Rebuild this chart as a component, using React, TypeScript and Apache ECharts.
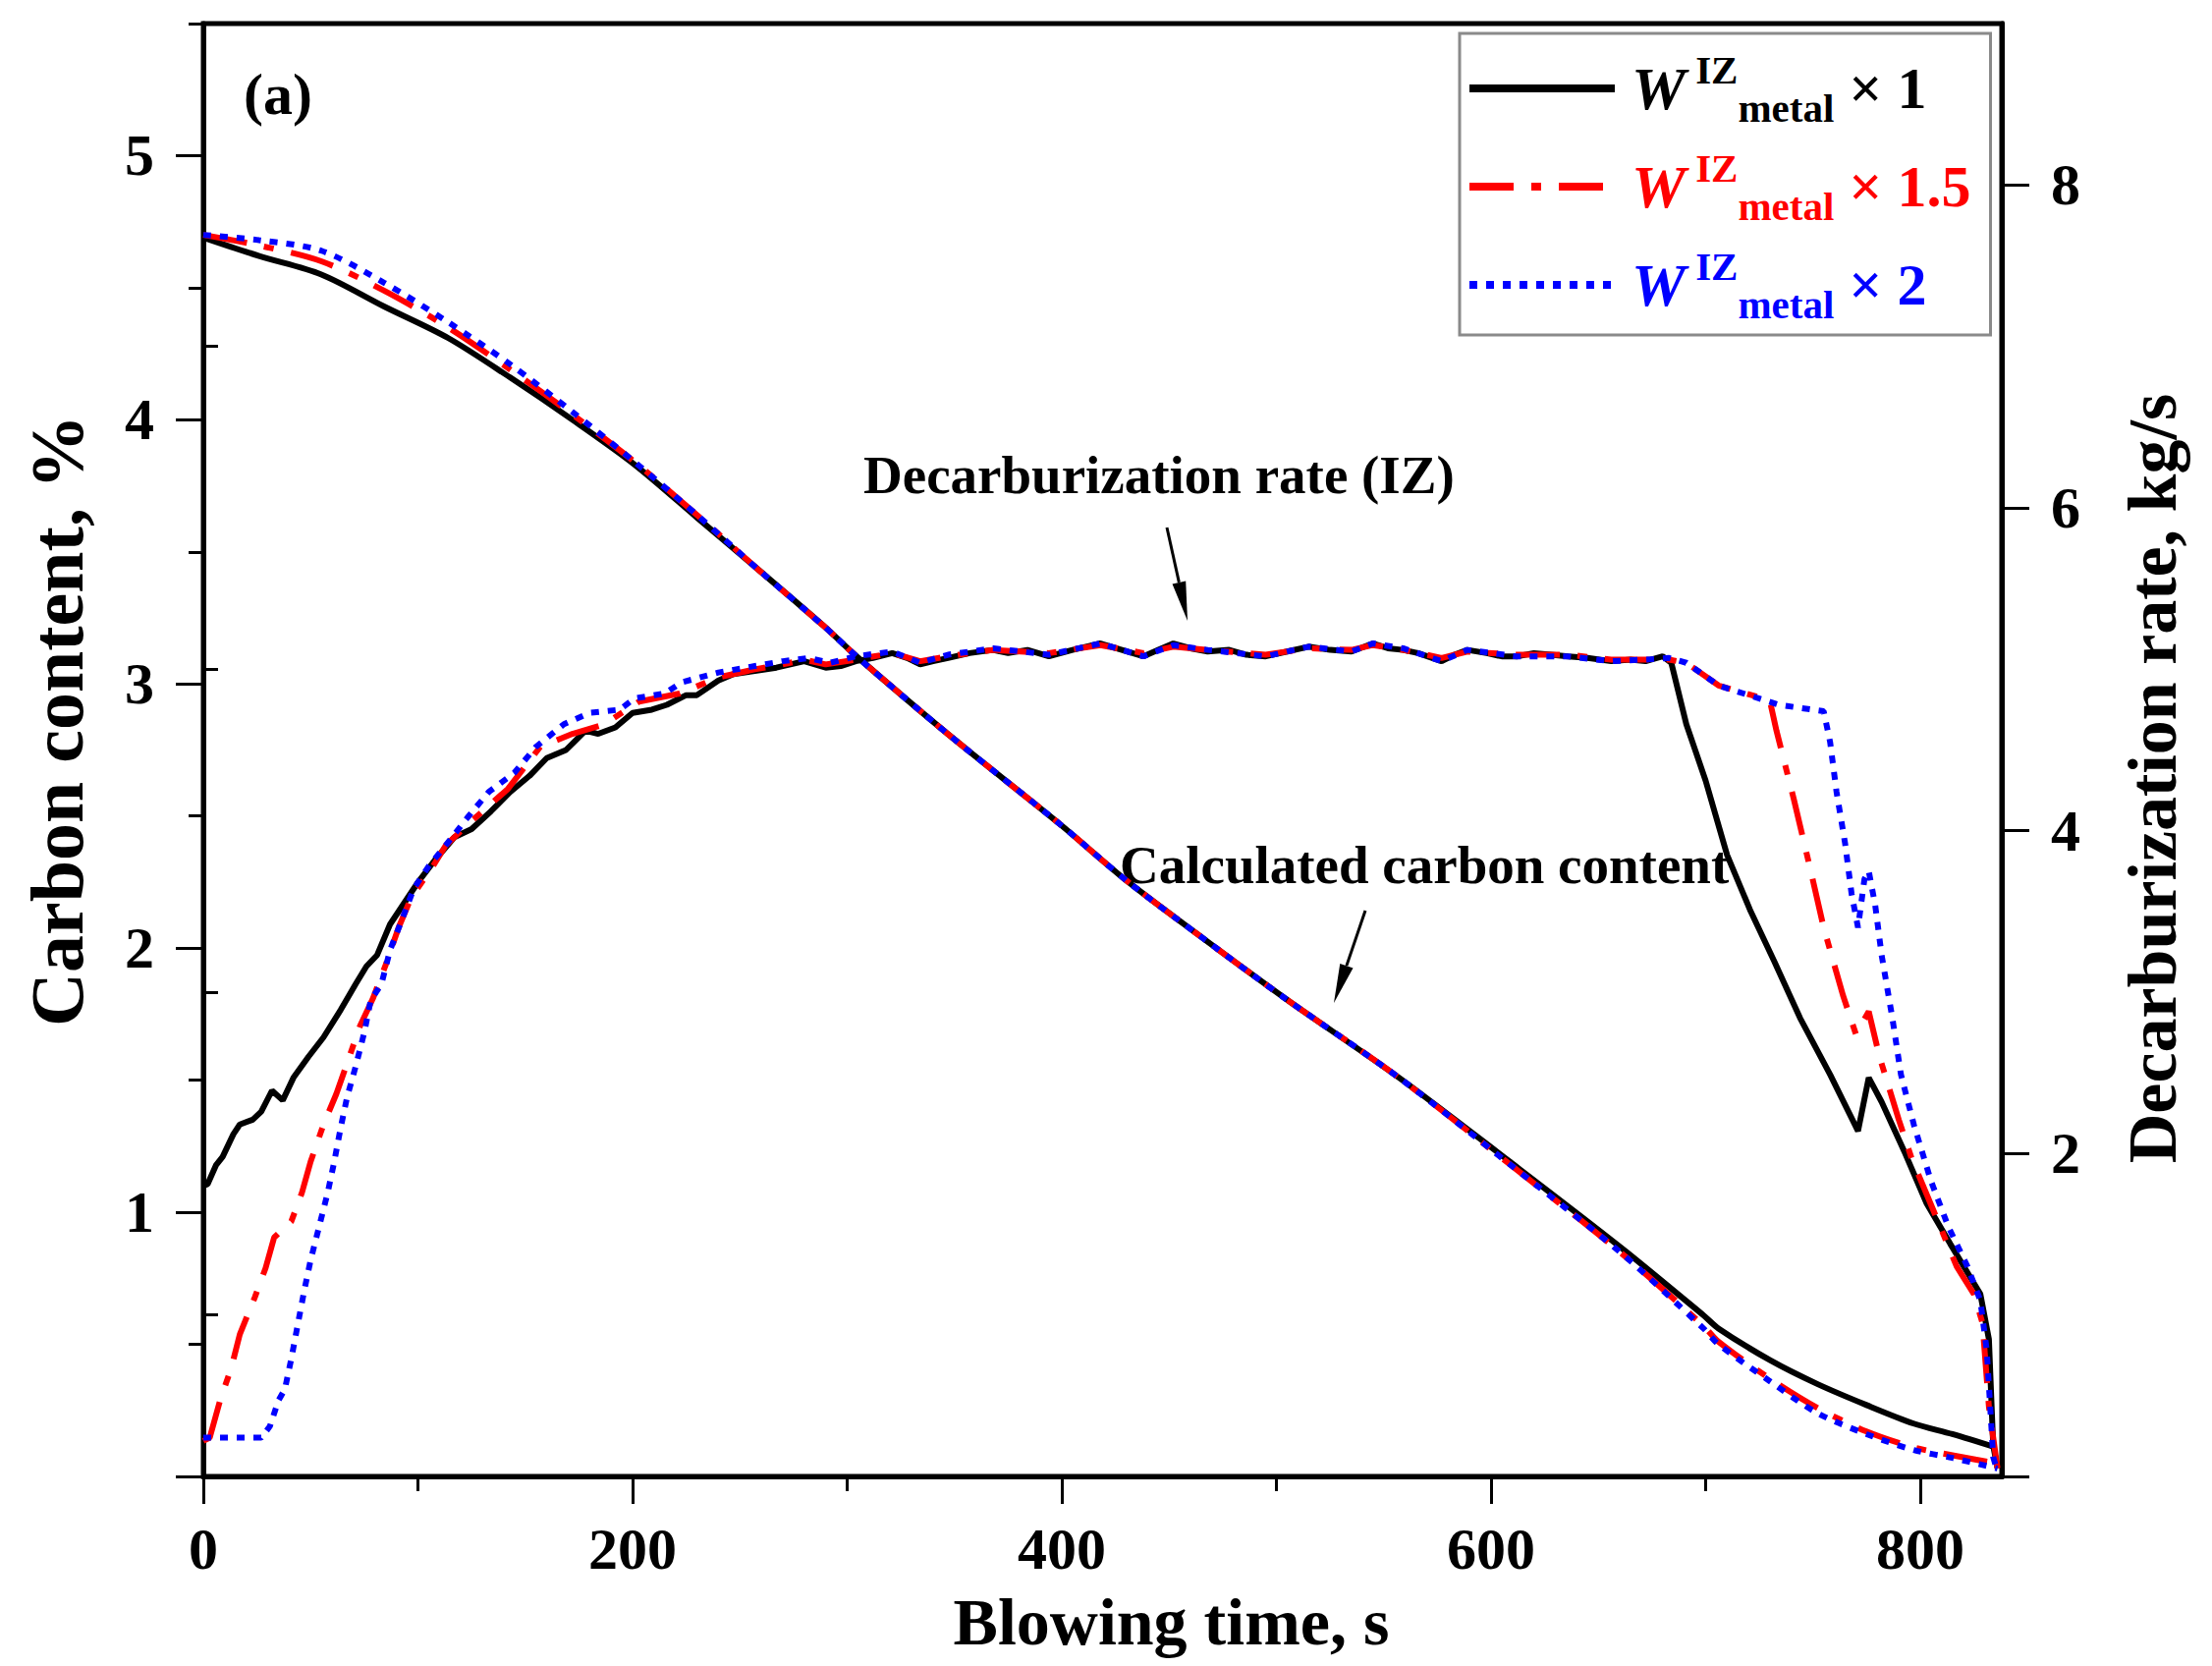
import { useEffect, useRef } from 'react';
import * as echarts from 'echarts';

const FONT = "'Liberation Serif', 'Times New Roman', serif";

// legend entries (one per multiplier); carbon + rate series share a name
const seriesNames = ['W IZ metal × 1', 'W IZ metal × 1.5', 'W IZ metal × 2'];
const factors = ['1', '1.5', '2'];
const colors = ['#000000', '#ff0000', '#0000ff'];
const dashes: any[] = ['solid', [45, 18, 10, 18], [8, 9]];

// axis ticks
const xMajor = [0, 200, 400, 600, 800];
const xMinor = [100, 300, 500, 700];
const leftMajor = [0, 1, 2, 3, 4, 5];
const leftLabels = [1, 2, 3, 4, 5];
const leftMinor = [0.5, 1.5, 2.5, 3.5, 4.5, 5.5];
const rightMajor = [0, 2, 4, 6, 8];
const rightLabels = [2, 4, 6, 8];
const rightMinor = [1, 3, 5, 7, 9];

// carbon content, % (left axis)
const carbonX1 = [
  [0, 4.69], [26, 4.62], [55, 4.55], [84, 4.43], [114, 4.31], [143, 4.16], [172, 4.0], [201, 3.83],
  [230, 3.63], [259, 3.43], [289, 3.22], [305, 3.1], [347, 2.81], [399, 2.47], [431, 2.25], [467, 2.03],
  [504, 1.81], [557, 1.51], [609, 1.19], [660, 0.87], [699, 0.61], [706, 0.56], [730, 0.44], [752, 0.35],
  [775, 0.27], [797, 0.2], [815, 0.16], [835, 0.11],
];
const carbonX15 = [
  [0, 4.7], [26, 4.66], [55, 4.6], [84, 4.49], [114, 4.35], [143, 4.19], [172, 4.02], [201, 3.84],
  [230, 3.64], [259, 3.43], [289, 3.22], [305, 3.1], [347, 2.81], [399, 2.47], [431, 2.25], [467, 2.03],
  [504, 1.81], [557, 1.51], [609, 1.18], [660, 0.85], [699, 0.57], [706, 0.51], [730, 0.37], [752, 0.26],
  [775, 0.17], [797, 0.11], [815, 0.08], [835, 0.05],
];
const carbonX2 = [
  [0, 4.7], [26, 4.68], [55, 4.64], [84, 4.52], [114, 4.37], [143, 4.21], [172, 4.03], [201, 3.84],
  [230, 3.64], [259, 3.43], [289, 3.22], [305, 3.1], [347, 2.81], [399, 2.47], [431, 2.25], [467, 2.03],
  [504, 1.81], [557, 1.51], [609, 1.18], [660, 0.85], [699, 0.56], [706, 0.5], [730, 0.36], [752, 0.24],
  [775, 0.16], [797, 0.1], [815, 0.07], [836, 0.03],
];

// decarburization rate, kg/s (right axis)
const rateX1 = [
  [0, 1.8], [2, 1.81], [6, 1.93], [9, 1.98], [14, 2.12], [17, 2.18], [23, 2.21], [27, 2.26], [32, 2.39],
  [37, 2.33], [42, 2.47], [49, 2.6], [56, 2.72], [64, 2.89], [71, 3.05], [76, 3.16], [81, 3.23], [87, 3.42],
  [93, 3.54], [100, 3.68], [108, 3.82], [117, 3.96], [125, 4.01], [134, 4.12], [143, 4.24], [152, 4.34],
  [160, 4.45], [169, 4.5], [178, 4.62], [184, 4.6], [192, 4.64], [200, 4.73], [209, 4.75], [216, 4.78],
  [225, 4.84], [230, 4.84], [240, 4.93], [247, 4.97], [257, 4.99], [267, 5.01], [280, 5.05], [290, 5.01],
  [297, 5.02], [304, 5.05], [312, 5.07], [321, 5.1], [328, 5.07], [334, 5.03], [340, 5.05], [347, 5.07],
  [357, 5.1], [368, 5.12], [375, 5.1], [384, 5.12], [394, 5.08], [405, 5.12], [418, 5.16], [428, 5.12],
  [438, 5.08], [445, 5.12], [452, 5.16], [460, 5.13], [468, 5.11], [478, 5.12], [486, 5.09], [495, 5.08],
  [505, 5.11], [515, 5.14], [525, 5.12], [535, 5.11], [545, 5.16], [552, 5.13], [559, 5.12], [566, 5.1],
  [577, 5.05], [583, 5.09], [589, 5.12], [598, 5.1], [605, 5.08], [612, 5.08], [620, 5.1], [628, 5.09],
  [636, 5.08], [645, 5.07], [656, 5.05], [665, 5.06], [672, 5.05], [680, 5.08], [684, 5.04], [691, 4.66],
  [700, 4.31], [710, 3.85], [721, 3.5], [732, 3.19], [744, 2.84], [758, 2.49], [771, 2.14], [776, 2.47],
  [782, 2.32], [793, 2.0], [803, 1.69], [814, 1.44], [828, 1.13], [832, 0.85], [834, 0.19], [836, 0.05],
];
const rateX15 = [
  [0, 0.22], [3, 0.24], [8, 0.48], [13, 0.67], [17, 0.88], [24, 1.11], [29, 1.29], [33, 1.48], [41, 1.58],
  [46, 1.76], [50, 1.95], [56, 2.18], [62, 2.37], [67, 2.56], [73, 2.79], [79, 2.96], [85, 3.17], [91, 3.4],
  [97, 3.59], [107, 3.78], [113, 3.91], [125, 4.06], [142, 4.26], [157, 4.52], [172, 4.6], [187, 4.66],
  [203, 4.8], [222, 4.85], [240, 4.95], [257, 5.0], [270, 5.03], [280, 5.06], [290, 5.03], [304, 5.06],
  [321, 5.1], [334, 5.05], [347, 5.08], [368, 5.12], [394, 5.1], [418, 5.15], [438, 5.1], [452, 5.14],
  [468, 5.12], [495, 5.09], [515, 5.13], [535, 5.12], [545, 5.15], [559, 5.12], [577, 5.07], [589, 5.11],
  [612, 5.09], [636, 5.09], [656, 5.06], [672, 5.06], [683, 5.06], [691, 5.04], [706, 4.9], [724, 4.83],
  [730, 4.8], [733, 4.62], [741, 4.2], [749, 3.75], [755, 3.4], [764, 2.98], [770, 2.74], [776, 2.88],
  [781, 2.6], [790, 2.21], [796, 1.97], [807, 1.62], [817, 1.3], [825, 1.13], [829, 0.95], [832, 0.43],
  [836, 0.05],
];
const rateX2 = [
  [0, 0.24], [12, 0.24], [27, 0.24], [31, 0.31], [35, 0.47], [38, 0.54], [41, 0.73], [44, 0.94], [47, 1.15],
  [50, 1.34], [54, 1.55], [58, 1.76], [61, 1.95], [64, 2.16], [67, 2.35], [71, 2.54], [75, 2.75], [78, 2.95],
  [83, 3.05], [87, 3.26], [92, 3.43], [98, 3.64], [105, 3.78], [113, 3.91], [123, 4.08], [133, 4.24],
  [145, 4.36], [155, 4.52], [168, 4.66], [180, 4.73], [194, 4.75], [201, 4.82], [215, 4.85], [223, 4.92],
  [240, 4.98], [257, 5.02], [270, 5.05], [282, 5.07], [292, 5.04], [304, 5.08], [321, 5.11], [334, 5.04],
  [347, 5.09], [368, 5.13], [394, 5.09], [418, 5.16], [438, 5.08], [452, 5.15], [468, 5.12], [495, 5.08],
  [515, 5.14], [535, 5.11], [545, 5.16], [559, 5.13], [577, 5.05], [589, 5.12], [612, 5.08], [636, 5.08],
  [656, 5.05], [672, 5.06], [683, 5.07], [691, 5.04], [706, 4.9], [734, 4.78], [755, 4.74], [758, 4.55],
  [761, 4.24], [765, 3.92], [768, 3.61], [771, 3.4], [774, 3.7], [776, 3.75], [779, 3.54], [782, 3.23],
  [787, 2.84], [791, 2.49], [797, 2.18], [805, 1.83], [813, 1.55], [822, 1.3], [828, 1.09], [831, 0.78],
  [834, 0.12], [836, 0.03],
];

const carbonData = [carbonX1, carbonX15, carbonX2];
const rateData = [rateX1, rateX15, rateX2];

const boldText = (size: number) => ({
  color: '#000',
  fontSize: size,
  fontWeight: 'bold' as const,
  fontFamily: FONT,
});

function arrow(x1: number, y1: number, x2: number, y2: number) {
  const len = Math.hypot(x2 - x1, y2 - y1);
  const ux = (x2 - x1) / len;
  const uy = (y2 - y1) / len;
  const hl = 40;
  const hw = 7;
  const bx = x2 - ux * hl;
  const by = y2 - uy * hl;
  return [
    { type: 'line', shape: { x1, y1, x2: bx, y2: by }, style: { stroke: '#000', lineWidth: 3 } },
    {
      type: 'polygon',
      shape: { points: [[x2, y2], [bx - uy * hw, by + ux * hw], [bx + uy * hw, by - ux * hw]] },
      style: { fill: '#000' },
    },
  ];
}

function tickAxis(min: number, max: number, position: string, ticks: number[], length: number) {
  return {
    type: 'value',
    min,
    max,
    position,
    axisLine: { show: false },
    axisTick: { show: true, inside: false, length, customValues: ticks, lineStyle: { color: '#000', width: 3 } },
    axisLabel: { show: false },
    splitLine: { show: false },
  };
}

export default function App() {
  const chartRef = useRef<HTMLDivElement>(null);

  useEffect(() => {
    if (!chartRef.current) return;
    const chart = echarts.init(chartRef.current, undefined, { renderer: 'svg' });

    const rich: Record<string, any> = {};
    colors.forEach((c, i) => {
      rich['w' + i] = { color: c, fontSize: 62, fontWeight: 'bold', fontStyle: 'italic', fontFamily: FONT, lineHeight: 80, padding: [0, 0, 0, 12] };
      rich['s' + i] = { color: c, fontSize: 41, fontWeight: 'bold', fontFamily: FONT, lineHeight: 41, verticalAlign: 'top', padding: [0, 0, 0, 10] };
      rich['m' + i] = { color: c, fontSize: 41, fontWeight: 'bold', fontFamily: FONT, lineHeight: 41, verticalAlign: 'bottom' };
      rich['x' + i] = { color: c, fontSize: 60, fontWeight: 'bold', fontFamily: FONT, lineHeight: 80 };
    });

    const series: any[] = [];
    seriesNames.forEach((name, i) => {
      const lineStyle = { color: colors[i], width: 6, type: dashes[i], cap: 'butt' };
      series.push({
        name, type: 'line', xAxisIndex: 0, yAxisIndex: 0, data: carbonData[i],
        symbol: 'none', smooth: 0.3, color: colors[i], lineStyle,
      });
      series.push({
        name, type: 'line', xAxisIndex: 0, yAxisIndex: 1, data: rateData[i],
        symbol: 'none', color: colors[i], lineStyle,
      });
    });

    chart.setOption({
      animation: false,
      backgroundColor: '#ffffff',
      grid: {
        left: 207, right: 214, top: 24, bottom: 193,
        show: true, borderColor: '#000', borderWidth: 5, backgroundColor: 'transparent',
        outerBoundsMode: 'none',
      },
      legend: {
        data: seriesNames,
        orient: 'vertical',
        left: 1486,
        top: 34,
        padding: [16, 20, 11, 6],
        itemGap: 20,
        itemWidth: 148,
        itemHeight: 20,
        selectedMode: false,
        backgroundColor: '#ffffff',
        borderColor: '#8a8a8a',
        borderWidth: 3,
        lineStyle: { width: 8 },
        itemStyle: { opacity: 0 },
        textStyle: { fontFamily: FONT, rich },
        formatter: (name: string) => {
          const i = seriesNames.indexOf(name);
          return `{w${i}|W}{s${i}|IZ}{m${i}|metal}{x${i}| × ${factors[i]}}`;
        },
      },
      xAxis: [
        {
          type: 'value', min: 0, max: 838, position: 'bottom',
          axisLine: { show: true, onZero: false, lineStyle: { color: '#000', width: 5 } },
          axisTick: { show: true, inside: false, length: 28, customValues: xMajor, lineStyle: { color: '#000', width: 3 } },
          axisLabel: { customValues: xMajor, margin: 44, ...boldText(60) },
          splitLine: { show: false },
          name: 'Blowing time, s', nameLocation: 'middle', nameGap: 114,
          nameTextStyle: { ...boldText(68), padding: [0, 0, 0, 140] },
        },
        tickAxis(0, 838, 'bottom', xMinor, 15),
      ],
      yAxis: [
        {
          type: 'value', min: 0, max: 5.5, position: 'left',
          axisLine: { show: true, onZero: false, lineStyle: { color: '#000', width: 5 } },
          axisTick: { show: true, inside: false, length: 28, customValues: leftMajor, lineStyle: { color: '#000', width: 3 } },
          axisLabel: { customValues: leftLabels, margin: 50, ...boldText(60) },
          splitLine: { show: false },
          name: 'Carbon content, %', nameLocation: 'middle', nameGap: 111,
          nameTextStyle: { ...boldText(76), padding: [0, 0, 0, 60] },
        },
        {
          type: 'value', min: 0, max: 9, position: 'right',
          axisLine: { show: true, onZero: false, lineStyle: { color: '#000', width: 5 } },
          axisTick: { show: true, inside: false, length: 28, customValues: rightMajor, lineStyle: { color: '#000', width: 3 } },
          axisLabel: { customValues: rightLabels, margin: 50, ...boldText(60) },
          splitLine: { show: false },
          name: 'Decarburization rate, kg/s', nameLocation: 'middle', nameGap: 118,
          nameTextStyle: { ...boldText(70), padding: [0, 58, 0, 0] },
        },
        tickAxis(0, 5.5, 'left', leftMinor, 15),
        tickAxis(0, 9, 'right', rightMinor, 15),
      ],
      series,
      graphic: [
        {
          type: 'text', x: 248, y: 96,
          style: { text: '(a)', fill: '#000', font: `bold 60px ${FONT}`, align: 'left', verticalAlign: 'middle' },
        },
        {
          type: 'text', x: 879, y: 483,
          style: { text: 'Decarburization rate (IZ)', fill: '#000', font: `bold 55px ${FONT}`, align: 'left', verticalAlign: 'middle' },
        },
        {
          type: 'text', x: 1140, y: 880,
          style: { text: 'Calculated carbon content', fill: '#000', font: `bold 55px ${FONT}`, align: 'left', verticalAlign: 'middle' },
        },
        ...arrow(1188, 537, 1209, 632),
        ...arrow(1390, 927, 1358, 1021),
      ],
    });

    return () => chart.dispose();
  }, []);

  return (
    <div
      ref={chartRef}
      style={{ position: 'absolute', left: 0, top: 0, width: 2252, height: 1696, background: '#fff' }}
    />
  );
}
